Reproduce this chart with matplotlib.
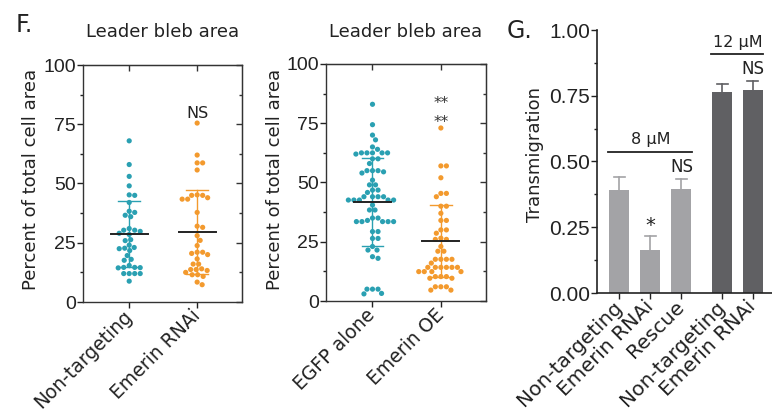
import numpy as np
import matplotlib
matplotlib.use("Agg")
import matplotlib.pyplot as plt
from matplotlib.ticker import NullFormatter

# ---------------- data ----------------
f1_categories = ["Non-targeting", "Emerin RNAi"]
f1_nontargeting = [68, 58, 53, 49, 45.2, 45, 42, 38.3, 37.8, 36.6, 36, 31, 30.3, 30.3,
                   29.8, 29, 28.5, 25.9, 26.3, 24, 22.7, 22.5, 21.7, 23, 19.6, 18, 17.6,
                   15.4, 14.6, 14.4, 14.5, 14.6, 12, 12, 12, 12, 8.8]
f1_emerin_rnai = [75.5, 62, 58.7, 58.7, 55.7, 45, 45, 45.2, 44, 43.4, 43.4, 37.8, 32,
                  31.5, 28, 26, 23.8, 21, 21, 20.5, 20, 18.2, 16, 16, 14, 13.7, 13.7,
                  13.3, 12.5, 11.5, 11.5, 10.8, 8.4, 7.3]
f1_means = [28.7, 29.7]
f1_sds = [14.0, 17.7]
f1_annot = ["", "NS"]

f2_categories = ["EGFP alone", "Emerin OE"]
f2_egfp = [83, 74.4, 70, 68, 65, 64, 62.5, 62.5, 62.5, 62.5, 62.5, 62, 60, 60, 58, 55,
           55, 54, 55, 54.5, 51, 49, 49, 46.8, 46.8, 45.8, 44, 44, 44, 44, 42.6, 42.6,
           42.6, 42.6, 42.6, 40.5, 38.4, 38.4, 35, 35, 33.5, 33.5, 33.5, 33.5, 33.5, 34,
           29.3, 29.3, 26.4, 26.4, 23, 21.5, 21.5, 18.7, 18, 5, 5, 5, 3.2, 3]
f2_emerin_oe = [73, 57, 57, 52, 45.4, 45.4, 44, 40, 40, 37, 34, 34, 30, 30, 28.6, 26,
                26, 26.5, 23, 21, 21, 17.6, 17.6, 17.6, 17.6, 16, 14.2, 14.2, 14.2, 14.2,
                14.2, 14.2, 12.4, 12.4, 12.4, 12.4, 10.3, 10.3, 10.3, 9.6, 9.6, 6, 6, 6,
                4.6, 4.6]
f2_means = [41.9, 25.4]
f2_sds = [18.6, 15.1]

g_categories = ["Non-targeting", "Emerin RNAi", "Rescue", "Non-targeting", "Emerin RNAi"]
g_values = [0.39, 0.163, 0.395, 0.765, 0.772]
g_errors = [0.05, 0.055, 0.04, 0.03, 0.033]
g_group = [0, 0, 0, 1, 1]
g_annot = ["", "*", "NS", "", "NS"]
g_group_labels = ["8 \u03bcM", "12 \u03bcM"]

# ---------------- style ----------------
TEAL = "#2aa0b2"
ORANGE = "#f39a2e"
LIGHT = "#a3a3a6"
DARK = "#606063"
TXT = "#222222"
W, H = 772, 411

fig = plt.figure(figsize=(W / 100, H / 100), dpi=100)


def rect(l, r, t, b):
    return [l / W, 1 - b / H, (r - l) / W, (b - t) / H]


def swarm_offsets(values, px_x, px_y, d):
    """Simple beeswarm: offsets (in data x units) so dots of diameter d px don't overlap."""
    vals = np.asarray(values, float)
    order = np.argsort(-vals)
    placed = []
    offs = np.zeros(len(vals))
    cands = [0.0]
    for k in range(1, 80):
        cands += [k * 0.5, -k * 0.5]
    for i in order:
        y = vals[i] * px_y
        for c in cands:
            if all((px - c) ** 2 + (py - y) ** 2 >= d * d for (px, py) in placed):
                placed.append((c, y))
                offs[i] = c / px_x
                break
    return offs


def rotate_labels(ax, labels, size):
    ax.set_xticklabels(labels, rotation=45, ha="right", va="center",
                       rotation_mode="anchor", fontsize=size, color=TXT)


def dot_panel(ax, groups, colors, means, sds, cats, ppx, ppy):
    for k, (vals, col) in enumerate(zip(groups, colors)):
        offs = swarm_offsets(vals, ppx, ppy, 5.4)
        ax.scatter(k + offs, vals, s=14, color=col, edgecolors="none", zorder=3)
        m, s = means[k], sds[k]
        ax.plot([k, k], [m - s, m + s], color=col, lw=1.0, zorder=2)
        ax.plot([k - 0.16, k + 0.16], [m + s, m + s], color=col, lw=1.0, zorder=2)
        ax.plot([k - 0.16, k + 0.16], [m - s, m - s], color=col, lw=1.0, zorder=2)
        ax.plot([k - 0.27, k + 0.27], [m, m], color="#222222", lw=1.4, zorder=4)
    ax.set_ylim(0, 100)
    ax.set_xlim(-0.68, 1.66)
    major = [0, 25, 50, 75, 100]
    minor = [12.5, 37.5, 62.5, 87.5]
    ax.set_yticks(major)
    ax.set_yticks(minor, minor=True)
    ax.set_xticks([0, 1])
    rotate_labels(ax, cats, 13.5)
    ax.tick_params(axis="y", which="both", direction="out", labelsize=14,
                   colors=TXT, labelcolor=TXT, width=1)
    ax.tick_params(axis="y", which="major", length=4, pad=1)
    ax.tick_params(axis="y", which="minor", length=2.5)
    ax.tick_params(axis="x", direction="out", length=4, width=1, colors=TXT, pad=4)
    for lab in ax.get_yticklabels():
        lab.set_family("Liberation Sans")
    for sp in ax.spines.values():
        sp.set_color("#333333")
        sp.set_linewidth(1.0)
    # inward ticks on the right and top spines
    sy = ax.secondary_yaxis("right")
    sy.set_yticks(major)
    sy.set_yticks(minor, minor=True)
    sy.yaxis.set_major_formatter(NullFormatter())
    sy.tick_params(axis="y", which="both", direction="in", width=1, colors="#333333")
    sy.tick_params(axis="y", which="major", length=4)
    sy.tick_params(axis="y", which="minor", length=2.5)
    sy.spines["right"].set_color("#333333")
    sx = ax.secondary_xaxis("top")
    sx.set_xticks([0, 1])
    sx.xaxis.set_major_formatter(NullFormatter())
    sx.tick_params(axis="x", direction="in", length=4, width=1, colors="#333333")
    sx.spines["top"].set_color("#333333")


# Panel F left
ax1 = fig.add_axes(rect(83, 242, 65, 302))
dot_panel(ax1, [f1_nontargeting, f1_emerin_rnai], [TEAL, ORANGE], f1_means, f1_sds,
          f1_categories, 68, 2.37)
ax1.text(1, 79.5, f1_annot[1], ha="center", va="center", fontsize=11.5, color=TXT)

# Panel F right
ax2 = fig.add_axes(rect(326, 486, 64, 301))
dot_panel(ax2, [f2_egfp, f2_emerin_oe], [TEAL, ORANGE], f2_means, f2_sds,
          f2_categories, 68, 2.37)
ax2.text(1, 83.5, "**", ha="center", va="center", fontsize=11, color="#333333")
ax2.text(1, 75.5, "**", ha="center", va="center", fontsize=11, color="#333333")

# Panel G
ax3 = fig.add_axes(rect(597, 772, 30, 293))
g_pos = np.array([0, 1, 2, 3.32, 4.3])
g_colors = [LIGHT if g == 0 else DARK for g in g_group]
ax3.bar(g_pos, g_values, width=0.65, color=g_colors, zorder=2)
for x, v, e, c in zip(g_pos, g_values, g_errors, g_colors):
    ax3.plot([x, x], [v, v + e], color=c, lw=1.2, zorder=1)
    ax3.plot([x - 0.17, x + 0.17], [v + e, v + e], color=c, lw=1.2, zorder=1)
for x, v, e, a in zip(g_pos, g_values, g_errors, g_annot):
    if a == "*":
        ax3.text(x, v + e + 0.04, a, ha="center", va="center", fontsize=14, color=TXT)
    elif a:
        ax3.text(x, v + e + 0.045, a, ha="center", va="center", fontsize=12, color=TXT)
ax3.plot([-0.38, 2.35], [0.535, 0.535], color="#222222", lw=1.3, clip_on=False)
ax3.text(1.0, 0.582, g_group_labels[0], ha="center", va="center", fontsize=11.5, color=TXT)
ax3.plot([2.95, 4.62], [0.91, 0.91], color="#222222", lw=1.3, clip_on=False)
ax3.text(3.81, 0.953, g_group_labels[1], ha="center", va="center", fontsize=11.5, color=TXT)
ax3.set_xlim(-0.72, 4.92)
ax3.set_ylim(0, 1.0)
ax3.set_yticks([0, 0.25, 0.5, 0.75, 1.0])
ax3.set_yticklabels(["0.00", "0.25", "0.50", "0.75", "1.00"], family="Liberation Sans")
ax3.set_yticks([0.125, 0.375, 0.625, 0.875], minor=True)
ax3.set_xticks(g_pos)
rotate_labels(ax3, g_categories, 14.5)
ax3.tick_params(axis="y", which="both", direction="out", labelsize=15, colors=TXT, width=1)
ax3.tick_params(axis="y", which="major", length=4, pad=1)
ax3.tick_params(axis="y", which="minor", length=2.5)
ax3.tick_params(axis="x", direction="out", length=4, width=1, colors=TXT, pad=4)
ax3.spines["top"].set_visible(False)
ax3.spines["right"].set_visible(False)
for sp in ["left", "bottom"]:
    ax3.spines[sp].set_color("#222222")
    ax3.spines[sp].set_linewidth(1.2)

# Texts
fig.text(163 / W, 1 - 32 / H, "Leader bleb area", ha="center", va="center",
         fontsize=13, color=TXT)
fig.text(406 / W, 1 - 32 / H, "Leader bleb area", ha="center", va="center",
         fontsize=13, color=TXT)
fig.text(24 / W, 1 - 25 / H, "F.", ha="center", va="center", fontsize=17, color=TXT)
fig.text(519 / W, 1 - 31 / H, "G.", ha="center", va="center", fontsize=17, color=TXT)
fig.text(31 / W, 1 - 179 / H, "Percent of total cell area", ha="center", va="center",
         rotation=90, fontsize=13, color=TXT)
fig.text(275 / W, 1 - 179 / H, "Percent of total cell area", ha="center", va="center",
         rotation=90, fontsize=13, color=TXT)
fig.text(535 / W, 1 - 155 / H, "Transmigration", ha="center", va="center",
         rotation=90, fontsize=13, color=TXT)

fig.savefig("out.png", dpi=100)
